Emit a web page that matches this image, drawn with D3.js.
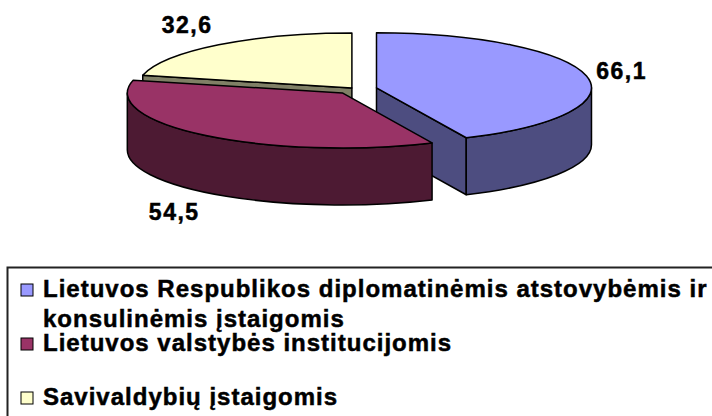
<!DOCTYPE html>
<html>
<head>
<meta charset="utf-8">
<script src="https://cdn.jsdelivr.net/npm/d3@7"></script>
<style>
body { margin: 0; background: #fff; }
text { font-family: "Liberation Sans", Arial, sans-serif; font-weight: bold; fill: #000; stroke: #000; stroke-width: 0.5px; }
</style>
</head>
<body>
<svg id="vis" width="712" height="416"></svg>
<script>
// data
var values = [66.1, 54.5, 32.6];
var valueLabels = ["66,1", "54,5", "32,6"];
var categories = [
    ["Lietuvos Respublikos diplomatinėmis atstovybėmis ir", "konsulinėmis įstaigomis"],
    ["Lietuvos valstybės institucijomis"],
    ["Savivaldybių įstaigomis"]
];
var topColors = ["#9999ff", "#993366", "#ffffcc"];
var sideColors = ["#4d4d80", "#4d1a33", "#808066"];

var svg = d3.select("#vis");

// 3d pie geometry
var cx = 355, cy = 89, rx = 215, ry = 55, depth = 57;
var explode = [22, 20, 5];

var arcs = d3.pie().sort(null).value(function(d){ return d; })(values);
arcs.forEach(function(a, i){
    a.i = i;
    a.mid = (a.startAngle + a.endAngle) / 2;
    a.cx = cx + explode[i] * Math.sin(a.mid);
    a.cy = cy - explode[i] * Math.cos(a.mid) * ry / rx;
});

function pt(a, t, dz){
    return [a.cx + rx * Math.sin(t), a.cy - ry * Math.cos(t) + (dz || 0)];
}

function topPath(a){
    var large = (a.endAngle - a.startAngle) > Math.PI ? 1 : 0;
    return "M" + a.cx + "," + a.cy + "L" + pt(a, a.startAngle) +
        "A" + rx + "," + ry + " 0 " + large + " 1 " + pt(a, a.endAngle) + "Z";
}

function sidePath(a){
    // only the front half of the rim is seen
    var s = Math.max(a.startAngle, Math.PI / 2), e = Math.min(a.endAngle, 3 * Math.PI / 2);
    if (e <= s) return null;
    var large = (e - s) > Math.PI ? 1 : 0;
    return "M" + pt(a, s) + "A" + rx + "," + ry + " 0 " + large + " 1 " + pt(a, e) +
        "L" + pt(a, e, depth) + "A" + rx + "," + ry + " 0 " + large + " 0 " + pt(a, s, depth) + "Z";
}

function facePath(a, t){
    return "M" + a.cx + "," + a.cy + "L" + pt(a, t) + "L" + pt(a, t, depth) +
        "L" + a.cx + "," + (a.cy + depth) + "Z";
}

// back slices first
var order = arcs.slice().sort(function(a, b){ return -Math.cos(a.mid) - -Math.cos(b.mid); });

var g = svg.append("g")
    .attr("stroke", "#000")
    .attr("stroke-width", 1.5)
    .attr("stroke-linejoin", "round");

order.forEach(function(a){
    var sg = g.append("g");
    // cut faces, visible when their normal points down toward the viewer
    [[a.startAngle, a.startAngle - Math.PI / 2], [a.endAngle, a.endAngle + Math.PI / 2]].forEach(function(f){
        if (-Math.cos(f[1]) > 1e-6) {
            sg.append("path").attr("d", facePath(a, f[0])).attr("fill", sideColors[a.i]);
        }
    });
    var sp = sidePath(a);
    if (sp) sg.append("path").attr("d", sp).attr("fill", sideColors[a.i]);
    sg.append("path").attr("d", topPath(a)).attr("fill", topColors[a.i]);
});

// value labels
svg.selectAll(".val")
    .data(arcs)
    .enter().append("text")
    .attr("class", "val")
    .attr("x", function(a){ return a.cx + (rx + 10) * Math.sin(a.mid); })
    .attr("y", function(a){
        return a.cy - (ry + 25) * Math.cos(a.mid) + (Math.cos(a.mid) < 0 ? depth : 0);
    })
    .attr("dy", "0.36em")
    .attr("text-anchor", function(a){ return Math.sin(a.mid) > 0 ? "start" : "end"; })
    .style("font-size", "23px")
    .style("letter-spacing", "1.5px")
    .text(function(a){ return valueLabels[a.i]; });

// legend
svg.append("rect")
    .attr("x", 7.5).attr("y", 267.5)
    .attr("width", 720).attr("height", 160)
    .attr("fill", "none")
    .attr("stroke", "#222")
    .attr("stroke-width", 2);

var ly = d3.scalePoint().domain(d3.range(categories.length)).range([297, 405]);

var items = svg.selectAll(".leg")
    .data(categories)
    .enter().append("g")
    .attr("class", "leg")
    .attr("transform", function(d, i){ return "translate(0," + ly(i) + ")"; });

items.append("rect")
    .attr("x", 21).attr("y", -13)
    .attr("width", 12).attr("height", 12)
    .attr("fill", function(d, i){ return topColors[i]; })
    .attr("stroke", "#000")
    .attr("stroke-width", 1);

items.each(function(d){
    var t = d3.select(this).append("text")
        .attr("x", 43)
        .style("font-size", "24px")
        .style("letter-spacing", "1px");
    d.forEach(function(line, k){
        t.append("tspan").attr("x", 43).attr("y", k * 30).text(line);
    });
});
</script>
</body>
</html>
